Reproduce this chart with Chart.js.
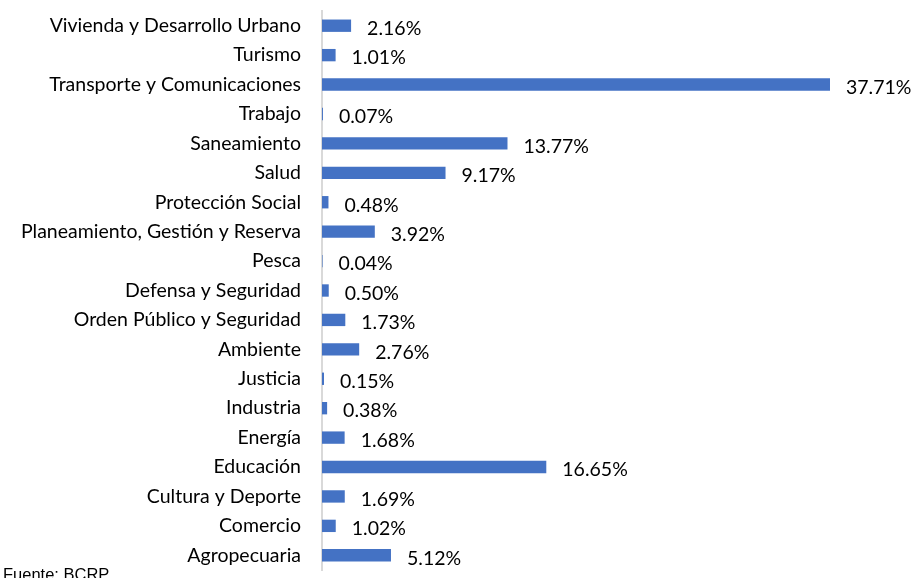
<!DOCTYPE html>
<html>
<head>
<meta charset="utf-8">
<script src="https://cdn.jsdelivr.net/npm/chart.js@4.4.1/dist/chart.umd.min.js"></script>
<style>
  html,body{margin:0;padding:0;background:#fff;overflow:hidden;}
</style>
</head>
<body>
<canvas id="c" width="911" height="578"></canvas>
<script>
// categorías y participación (%)
const sectores = [
  'Vivienda y Desarrollo Urbano','Turismo','Transporte y Comunicaciones','Trabajo',
  'Saneamiento','Salud','Protección Social','Planeamiento, Gestión y Reserva',
  'Pesca','Defensa y Seguridad','Orden Público y Seguridad','Ambiente','Justicia',
  'Industria','Energía','Educación','Cultura y Deporte','Comercio','Agropecuaria'
];
const participacion = [2.16,1.01,37.71,0.07,13.77,9.17,0.48,3.92,0.04,0.50,1.73,2.76,0.15,0.38,1.68,16.65,1.69,1.02,5.12];
const fuente = 'Fuente: BCRP';

const FONT = 'Lato, "Open Sans", sans-serif';

// etiquetas de valor + fuente
const extras = {
  id:'extras',
  afterDatasetsDraw(chart){
    const {ctx} = chart;
    const meta = chart.getDatasetMeta(0);
    ctx.save();
    ctx.font = '19.5px ' + FONT;
    ctx.fillStyle = '#000';
    ctx.textAlign = 'left';
    ctx.textBaseline = 'middle';
    meta.data.forEach((bar,i)=>{
      ctx.fillText(participacion[i].toFixed(2) + '%', bar.x + 16, bar.y + 3);
    });
    ctx.font = '16.5px "Liberation Sans", Arial, sans-serif';
    ctx.textBaseline = 'alphabetic';
    ctx.fillText(fuente, 3, 580);
    ctx.restore();
  }
};

new Chart(document.getElementById('c'), {
  type:'bar',
  data:{ labels: sectores, datasets:[{ data: participacion, backgroundColor:'#4472C4', borderWidth:0, categoryPercentage:1, barPercentage:0.42 }] },
  options:{
    indexAxis:'y',
    responsive:false,
    animation:false,
    layout:{ padding:{ top:11, bottom:8, right:81, left:0 } },
    plugins:{ legend:{ display:false }, tooltip:{ enabled:false } },
    scales:{
      x:{ display:false, min:0, max:37.71 },
      y:{
        afterFit(scale){ scale.width = 322; scale.paddingTop = 0; scale.paddingBottom = 0; },
        grid:{ display:false, drawTicks:false },
        border:{ display:true, color:'#d9d9d9', width:2 },
        ticks:{ color:'#000', padding:21, font:{ family:FONT, size:19.5 } }
      }
    }
  },
  plugins:[extras]
});
</script>
</body>
</html>
